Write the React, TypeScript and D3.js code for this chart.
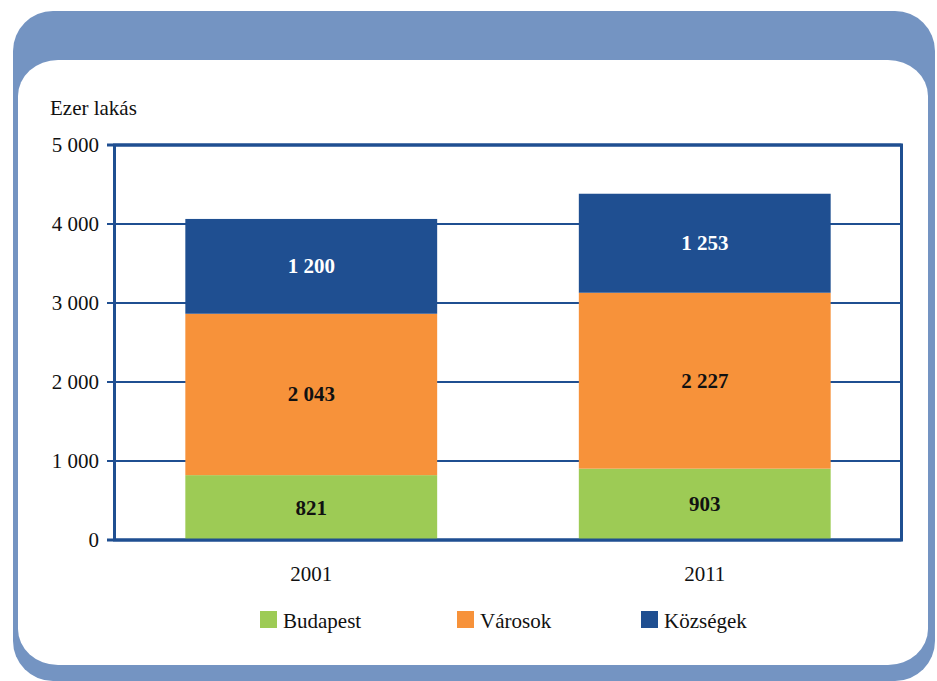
import React from "react";
import * as d3 from "d3";

const categories = ["2001", "2011"];
const seriesNames = ["Budapest", "Városok", "Községek"];
const budapest = [821, 903];
const varosok = [2043, 2227];
const kozsegek = [1200, 1253];
const yTicks = [0, 1000, 2000, 3000, 4000, 5000];
const colors = ["#9DCB55", "#F7923A", "#1F4F91"];
const labelColors = ["#111", "#111", "#ffffff"];

const W = 937;
const H = 681;
const plot = { left: 114.5, right: 901.5, top: 145, bottom: 540 };
const ts = { fontFamily: "'Liberation Serif'" } as React.CSSProperties;

const fmt = (v: number) => {
  const s = String(v);
  return s.length > 3 ? s.slice(0, s.length - 3) + "\u00a0" + s.slice(s.length - 3) : s;
};

export default function App() {
  const x = d3.scaleBand<string>().domain(categories).range([plot.left, plot.right]).paddingInner(0.36).paddingOuter(0.18);
  const y = d3.scaleLinear().domain([0, 5000]).range([plot.bottom, plot.top]);

  const rows = categories.map((c, i) => ({ cat: c, Budapest: budapest[i], "Városok": varosok[i], "Községek": kozsegek[i] }));
  const stack = d3.stack<any>().keys(seriesNames)(rows);
  const axisColor = "#1F4F91";

  return (
    <svg width={W} height={H} style={{ position: "absolute", left: 0, top: 0, background: "#fff" }}>
      <rect x={13} y={11} width={922} height={670} rx={40} ry={40} fill="#7494C2" />
      <rect x={18} y={60} width={910} height={605} rx={40} ry={36} fill="#ffffff" />
      <text x={50} y={115} fontSize={21} fill="#111" style={ts}>Ezer lakás</text>
      {yTicks.map((t) => (
        <g key={t}>
          <line x1={107} x2={plot.right} y1={y(t)} y2={y(t)} stroke={axisColor} strokeWidth={t === 0 || t === 5000 ? 3 : 2} />
          <text x={99} y={y(t) + 7} textAnchor="end" fontSize={21} fill="#111" style={ts}>{fmt(t)}</text>
        </g>
      ))}
      {stack.map((s, si) => (
        <g key={si}>
          {s.map((d, i) => {
            const x0 = x(categories[i])!;
            const y0 = y(d[1]);
            const h = y(d[0]) - y(d[1]);
            return (
              <g key={i}>
                <rect x={x0} y={y0} width={x.bandwidth()} height={h} fill={colors[si]} />
                <text x={x0 + x.bandwidth() / 2} y={y0 + h / 2 + 7} textAnchor="middle" fontSize={21} fontWeight="bold" fill={labelColors[si]} style={ts}>
                  {fmt(d[1] - d[0])}
                </text>
              </g>
            );
          })}
        </g>
      ))}
      <rect x={plot.left} y={plot.top} width={plot.right - plot.left} height={plot.bottom - plot.top} fill="none" stroke={axisColor} strokeWidth={3} />
      {categories.map((c) => (
        <text key={c} x={x(c)! + x.bandwidth() / 2} y={581} textAnchor="middle" fontSize={21} fill="#111" style={ts}>{c}</text>
      ))}
      {seriesNames.map((n, i) => {
        const lx = [260, 457, 641][i];
        return (
          <g key={n}>
            <rect x={lx} y={611} width={17} height={17} fill={colors[i]} />
            <text x={lx + 23} y={628} fontSize={21} fill="#111" style={ts}>{n}</text>
          </g>
        );
      })}
    </svg>
  );
}
